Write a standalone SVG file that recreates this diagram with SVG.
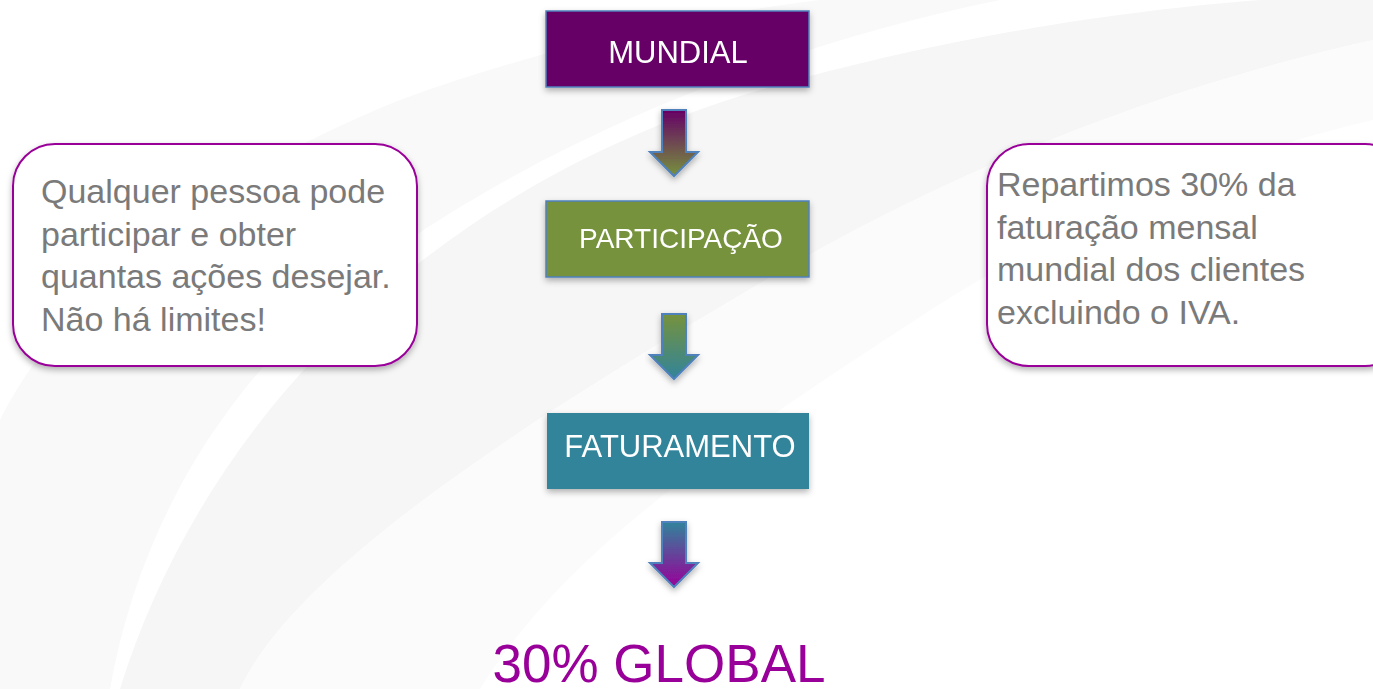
<svg xmlns="http://www.w3.org/2000/svg" width="1373" height="689" viewBox="0 0 1373 689">
<style>
.box{stroke:#4f81bd;stroke-width:1.5}
.lbl{font-family:"Liberation Sans",Arial,sans-serif;fill:#ffffff;text-anchor:middle}
.note{fill:#ffffff;stroke:#990099;stroke-width:2}
.ntxt{font-family:"Liberation Sans",Arial,sans-serif;font-size:34px;fill:#7a7a7a}
.arr{stroke:#4f81bd;stroke-width:2;stroke-linejoin:miter}
</style>
<defs>
<filter id="sh" x="-10%" y="-10%" width="130%" height="140%">
<feDropShadow dx="0" dy="3" stdDeviation="3" flood-color="#000" flood-opacity="0.3"/>
</filter>
<linearGradient id="g1" x1="0" y1="0" x2="0" y2="1"><stop offset="0" stop-color="#660066"/><stop offset="1" stop-color="#76923c"/></linearGradient>
<linearGradient id="g2" x1="0" y1="0" x2="0" y2="1"><stop offset="0" stop-color="#76923c"/><stop offset="1" stop-color="#31849b"/></linearGradient>
<linearGradient id="g3" x1="0" y1="0" x2="0" y2="1"><stop offset="0" stop-color="#31849b"/><stop offset="1" stop-color="#990099"/></linearGradient>
</defs>
<rect width="1373" height="689" fill="#ffffff"/>
<g id="background">
<path d="M120,689 C200,430 420,190 760,90 C950,35 1130,10 1260,0 L1373,0 L1373,40 C1150,90 960,170 800,260 C560,400 300,560 240,689 Z" fill="#f6f6f6"/>
<path d="M0,689 L0,420 C60,300 200,180 400,100 C550,45 700,15 820,0 L1000,0 C800,40 560,130 380,260 C230,370 140,520 110,689 Z" fill="#f9f9f9"/>
<path d="M240,689 C300,560 560,400 800,260 C960,170 1150,90 1373,40 L1373,120 C1200,160 1050,230 900,330 C700,460 560,560 480,689 Z" fill="#fbfbfb"/>
</g>
<g id="mundial" filter="url(#sh)">
<rect class="box" x="546" y="11" width="263" height="76" fill="#660066"/>
<text class="lbl" x="678" y="63" font-size="31">MUNDIAL</text>
</g>
<g id="participacao" filter="url(#sh)">
<rect class="box" x="546" y="201" width="263" height="76" fill="#76923c"/>
<text class="lbl" x="681" y="248" font-size="28">PARTICIPAÇÃO</text>
</g>
<g id="faturamento" filter="url(#sh)">
<rect x="547" y="413" width="262" height="76" fill="#31849b"/>
<text class="lbl" x="680" y="457" font-size="31">FATURAMENTO</text>
</g>
<g id="connectors" filter="url(#sh)">
<path class="arr" d="M662,110 H686 V152 H698 L674,176 L650,152 H662 Z" fill="url(#g1)"/>
<path class="arr" d="M662,314 H686 V355 H698 L674,379 L650,355 H662 Z" fill="url(#g2)"/>
<path class="arr" d="M662,522 H686 V563 H698 L674,587 L650,563 H662 Z" fill="url(#g3)"/>
</g>
<g id="note-left">
<rect class="note" x="13" y="144" width="404" height="222" rx="42" filter="url(#sh)"/>
<text class="ntxt" x="41" y="203">Qualquer pessoa pode</text>
<text class="ntxt" x="41" y="246">participar e obter</text>
<text class="ntxt" x="41" y="288">quantas ações desejar.</text>
<text class="ntxt" x="41" y="331">Não há limites!</text>
</g>
<g id="note-right">
<rect class="note" x="987" y="144" width="420" height="222" rx="42" filter="url(#sh)"/>
<text class="ntxt" x="997" y="196">Repartimos 30% da</text>
<text class="ntxt" x="997" y="239">faturação mensal</text>
<text class="ntxt" x="997" y="281">mundial dos clientes</text>
<text class="ntxt" x="997" y="324">excluindo o IVA.</text>
</g>
<g id="result">
<text x="659" y="682" font-family="Liberation Sans, Arial, sans-serif" font-size="53" fill="#990099" text-anchor="middle">30% GLOBAL</text>
</g>
</svg>
